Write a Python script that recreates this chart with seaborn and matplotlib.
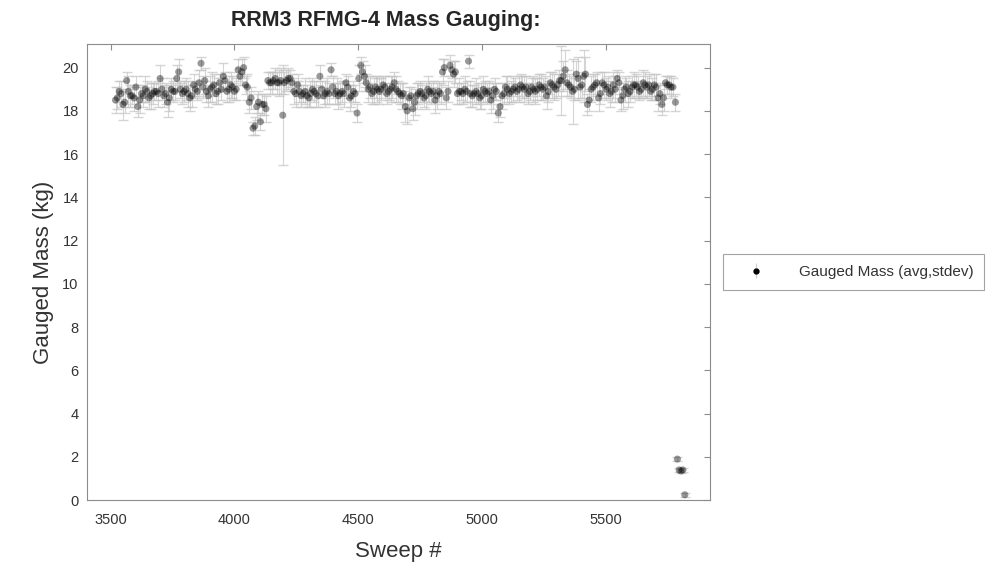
import matplotlib
matplotlib.use("Agg")
import matplotlib.pyplot as plt
import seaborn as sns
import pandas as pd

# sweep number of each averaged gauging point (first pass of sweeps)
sweep = [3520, 3535, 3550, 3565, 3580, 3595, 3610, 3625, 3640, 3655,
         3670, 3685, 3700, 3715, 3730, 3745, 3760, 3775, 3790, 3805,
         3820, 3835, 3850, 3865, 3880, 3895, 3910, 3925, 3940, 3955,
         3970, 3985, 4000, 4015, 4030, 4045, 4060, 4075, 4090, 4105,
         4120, 4135, 4150, 4165, 4180, 4195, 4210, 4225, 4240, 4255,
         4270, 4285, 4300, 4315, 4330, 4345, 4360, 4375, 4390, 4405,
         4420, 4435, 4450, 4465, 4480, 4495, 4510, 4525, 4540, 4555,
         4570, 4585, 4600, 4615, 4630, 4645, 4660, 4675, 4690, 4705,
         4720, 4735, 4750, 4765, 4780, 4795, 4810, 4825, 4840, 4855,
         4870, 4885, 4900, 4915, 4930, 4945, 4960, 4975, 4990, 5005,
         5020, 5035, 5050, 5065, 5080, 5095, 5110, 5125, 5140, 5155,
         5170, 5185, 5200, 5215, 5230, 5245, 5260, 5275, 5290, 5305,
         5320, 5335, 5350, 5365, 5380, 5395, 5410, 5425, 5440, 5455,
         5470, 5485, 5500, 5515, 5530, 5545, 5560, 5575, 5590, 5605,
         5620, 5635, 5650, 5665, 5680, 5695, 5710, 5725, 5740, 5755,
         5770, 5780, 5788, 5795, 5803, 5810, 5818]

mass = [18.5, 18.9, 18.3, 19.4, 18.7, 18.6, 18.2, 18.8, 19.0, 18.6,
        18.8, 18.9, 19.5, 18.7, 18.4, 19.0, 18.9, 19.8, 18.8, 19.0,
        18.6, 19.2, 18.9, 20.2, 19.4, 18.7, 19.1, 18.8, 19.3, 19.6,
        18.9, 19.2, 18.9, 19.9, 19.8, 19.2, 18.4, 17.2, 18.2, 17.5,
        18.3, 19.4, 19.3, 19.5, 19.3, 17.8, 19.4, 19.5, 18.9, 19.2,
        18.7, 18.9, 18.6, 19.0, 18.8, 19.6, 18.7, 18.9, 19.9, 18.8,
        18.7, 18.9, 19.3, 18.6, 18.9, 17.9, 20.1, 19.6, 19.0, 18.8,
        19.1, 18.9, 19.2, 18.8, 19.0, 19.3, 18.9, 18.7, 18.2, 18.6,
        18.1, 18.7, 18.9, 18.6, 19.0, 18.8, 18.5, 18.9, 19.8, 18.6,
        20.1, 19.7, 18.8, 18.9, 19.0, 20.3, 18.7, 18.9, 18.6, 19.0,
        18.8, 18.5, 19.0, 17.9, 18.7, 19.1, 18.8, 19.0, 18.9, 19.2,
        19.0, 18.8, 19.1, 18.9, 19.2, 19.0, 18.7, 19.3, 19.1, 19.2,
        19.4, 19.9, 19.2, 18.9, 19.7, 19.1, 19.6, 18.3, 19.0, 19.2,
        18.6, 19.3, 19.0, 18.8, 19.2, 19.5, 18.5, 19.0, 18.8, 19.1,
        19.2, 18.9, 19.3, 19.1, 18.9, 19.2, 18.6, 18.3, 19.3, 19.2,
        19.1, 18.4, 1.9, 1.4, 1.35, 1.4, 0.25]

stdev = [0.6, 0.5, 0.7, 0.4, 0.5, 0.6, 0.5, 0.4, 0.6, 0.5,
         0.5, 0.4, 0.6, 0.5, 0.7, 0.5, 0.4, 0.6, 0.5, 0.5,
         0.6, 0.5, 0.4, 0.3, 0.6, 0.5, 0.7, 0.5, 0.4, 0.6,
         0.5, 0.6, 0.4, 0.5, 0.6, 0.4, 0.5, 0.3, 0.6, 0.4,
         0.5, 0.4, 0.5, 0.5, 0.6, 2.3, 0.5, 0.4, 0.6, 0.5,
         0.5, 0.6, 0.4, 0.5, 0.6, 0.5, 0.4, 0.6, 0.3, 0.5,
         0.6, 0.5, 0.4, 0.6, 0.5, 0.4, 0.4, 0.5, 0.6, 0.5,
         0.5, 0.6, 0.4, 0.5, 0.6, 0.5, 0.5, 0.6, 0.7, 0.5,
         0.5, 0.6, 0.5, 0.4, 0.6, 0.5, 0.6, 0.5, 0.6, 0.5,
         0.5, 0.6, 0.5, 0.4, 0.6, 0.3, 0.5, 0.6, 0.5, 0.6,
         0.5, 0.6, 0.5, 0.4, 0.6, 0.5, 0.5, 0.6, 0.4, 0.5,
         0.6, 0.5, 0.4, 0.6, 0.5, 0.5, 0.6, 0.5, 0.6, 0.5,
         1.6, 0.9, 0.5, 1.5, 0.6, 0.5, 1.2, 0.5, 0.6, 0.5,
         0.6, 0.5, 0.5, 0.6, 0.6, 0.4, 0.5, 0.6, 0.6, 0.5,
         0.5, 0.4, 0.6, 0.5, 0.4, 0.5, 0.6, 0.5, 0.3, 0.4,
         0.4, 0.4, 0.1, 0.1, 0.1, 0.1, 0.1]

# second pass of sweeps, interleaved with the first
sweep_b = [3527, 3542, 3557, 3572, 3587, 3602, 3617, 3632, 3647, 3662,
           3677, 3692, 3707, 3722, 3737, 3752, 3767, 3782, 3797, 3812,
           3827, 3842, 3857, 3872, 3887, 3902, 3917, 3932, 3947, 3962,
           3977, 3992, 4007, 4022, 4037, 4052, 4067, 4082, 4097, 4112,
           4127, 4142, 4157, 4172, 4187, 4202, 4217, 4232, 4247, 4262,
           4277, 4292, 4307, 4322, 4337, 4352, 4367, 4382, 4397, 4412,
           4427, 4442, 4457, 4472, 4487, 4502, 4517, 4532, 4547, 4562,
           4577, 4592, 4607, 4622, 4637, 4652, 4667, 4682, 4697, 4712,
           4727, 4742, 4757, 4772, 4787, 4802, 4817, 4832, 4847, 4862,
           4877, 4892, 4907, 4922, 4937, 4952, 4967, 4982, 4997, 5012,
           5027, 5042, 5057, 5072, 5087, 5102, 5117, 5132, 5147, 5162,
           5177, 5192, 5207, 5222, 5237, 5252, 5267, 5282, 5297, 5312,
           5327, 5342, 5357, 5372, 5387, 5402, 5417, 5432, 5447, 5462,
           5477, 5492, 5507, 5522, 5537, 5552, 5567, 5582, 5597, 5612,
           5627, 5642, 5657, 5672, 5687, 5702, 5717, 5732, 5747, 5762]

mass_b = [18.6, 18.8, 18.4, 18.9, 18.7, 19.1, 18.5, 18.7, 18.9, 18.7,
          18.9, 18.8, 19.0, 18.8, 18.6, 18.9, 19.5, 19.0, 18.9, 18.8,
          18.7, 19.0, 19.3, 19.1, 18.9, 19.0, 19.2, 18.9, 19.0, 19.4,
          19.0, 19.1, 19.0, 19.6, 20.0, 19.1, 18.6, 17.3, 18.4, 18.3,
          18.1, 19.3, 19.4, 19.3, 19.4, 19.3, 19.5, 19.3, 18.8, 18.9,
          18.8, 18.7, 18.8, 18.9, 18.7, 19.0, 18.8, 18.8, 19.1, 18.9,
          18.8, 18.8, 19.1, 18.7, 18.8, 19.5, 19.8, 19.3, 19.1, 18.9,
          19.0, 19.0, 19.1, 18.9, 19.1, 19.0, 18.8, 18.8, 18.0, 18.7,
          18.4, 18.8, 18.8, 18.7, 18.9, 18.9, 18.7, 18.8, 20.0, 18.9,
          19.9, 19.8, 18.9, 18.8, 18.9, 18.8, 18.8, 18.8, 18.7, 18.9,
          18.9, 18.7, 18.9, 18.2, 18.8, 19.0, 18.9, 19.1, 19.0, 19.1,
          19.1, 18.9, 19.0, 19.0, 19.1, 19.1, 18.9, 19.2, 19.0, 19.4,
          19.6, 19.3, 19.1, 19.0, 19.5, 19.2, 19.7, 18.5, 19.1, 19.3,
          18.8, 19.2, 19.1, 18.9, 19.0, 19.3, 18.7, 19.1, 18.9, 19.2,
          19.1, 19.0, 19.2, 19.2, 19.0, 19.1, 18.8, 18.6, 19.2, 19.1]

stdev_b = [0.5, 0.6, 0.5, 0.7, 0.4, 0.5, 0.6, 0.5, 0.5, 0.6,
           0.4, 0.6, 0.5, 0.5, 0.6, 0.5, 0.6, 0.4, 0.5, 0.6,
           0.5, 0.4, 0.6, 0.5, 0.5, 0.6, 0.5, 0.6, 0.5, 0.4,
           0.6, 0.5, 0.5, 0.4, 0.5, 0.6, 0.5, 0.4, 0.5, 0.5,
           0.6, 0.5, 0.4, 0.5, 0.6, 0.5, 0.5, 0.4, 0.6, 0.5,
           0.4, 0.5, 0.6, 0.5, 0.5, 0.4, 0.6, 0.5, 0.5, 0.6,
           0.5, 0.6, 0.5, 0.5, 0.4, 0.6, 0.5, 0.4, 0.5, 0.6,
           0.6, 0.5, 0.5, 0.4, 0.5, 0.6, 0.5, 0.5, 0.6, 0.4,
           0.6, 0.5, 0.4, 0.6, 0.5, 0.5, 0.6, 0.5, 0.4, 0.5,
           0.4, 0.5, 0.6, 0.5, 0.5, 0.6, 0.4, 0.5, 0.6, 0.5,
           0.5, 0.6, 0.4, 0.5, 0.5, 0.6, 0.5, 0.4, 0.6, 0.5,
           0.5, 0.4, 0.6, 0.5, 0.6, 0.5, 0.5, 0.6, 0.4, 0.5,
           0.7, 0.6, 0.5, 0.5, 1.0, 0.6, 0.8, 0.5, 0.6, 0.5,
           0.5, 0.6, 0.5, 0.5, 0.6, 0.5, 0.6, 0.4, 0.5, 0.6,
           0.5, 0.4, 0.6, 0.5, 0.5, 0.6, 0.5, 0.6, 0.4, 0.5]

df = pd.concat([
    pd.DataFrame({"Sweep": sweep, "Mass": mass, "Stdev": stdev}),
    pd.DataFrame({"Sweep": sweep_b, "Mass": mass_b, "Stdev": stdev_b}),
], ignore_index=True).sort_values("Sweep")

sns.set_style("white")
plt.rcParams["font.family"] = ["Liberation Sans", "DejaVu Sans"]

fig = plt.figure(figsize=(9.89, 5.62), dpi=100)
ax = fig.add_axes([0.088, 0.110, 0.630, 0.812])

ax.errorbar(df["Sweep"], df["Mass"], yerr=df["Stdev"], fmt="none",
            ecolor="#c4c4c4", elinewidth=0.8, capsize=3.5, alpha=0.7, zorder=1)
sns.scatterplot(data=df, x="Sweep", y="Mass", ax=ax, color="black", s=26,
                alpha=0.4, edgecolor="none", zorder=2, legend=False)

# legend entry: marker with a small error bar
h = ax.errorbar([], [], yerr=[], fmt="o", color="black", ms=3.5,
                ecolor="#cfcfcf", elinewidth=0.8, capsize=2)
leg = ax.legend([h], ["Gauged Mass (avg,stdev)"], loc="center left",
                bbox_to_anchor=(1.02, 0.5), fontsize=11, fancybox=False,
                frameon=True, borderpad=0.7, handlelength=3.0,
                handletextpad=1.3, borderaxespad=0)
leg.get_frame().set_edgecolor("#8c8c8c")
leg.get_frame().set_linewidth(0.8)
for t in leg.get_texts():
    t.set_color("#333333")

ax.set_xlim(3405, 5920)
ax.set_ylim(0, 21.1)
ax.set_xticks([3500, 4000, 4500, 5000, 5500])
ax.set_yticks(range(0, 21, 2))
ax.tick_params(direction="in", length=4, color="#8c8c8c", labelsize=10.5,
               labelcolor="#333333", top=True, right=True)
ax.tick_params(axis="x", pad=9)
ax.tick_params(axis="y", pad=6)
for s in ax.spines.values():
    s.set_color("#8c8c8c")
    s.set_linewidth(0.8)

ax.set_title("RRM3 RFMG-4 Mass Gauging:", fontsize=15.5, fontweight="bold",
             pad=13, x=0.48)
ax.set_xlabel("Sweep #", fontsize=16, color="#333333", labelpad=10)
ax.set_ylabel("Gauged Mass (kg)", fontsize=16, color="#333333", labelpad=6)

fig.savefig("out.png", dpi=100)
